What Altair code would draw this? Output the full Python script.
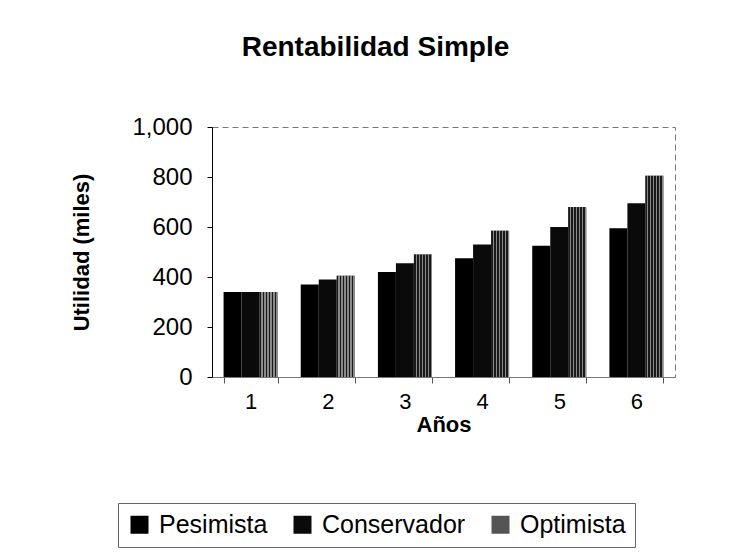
import altair as alt
import pandas as pd

years = ["1", "2", "3", "4", "5", "6"]
scenarios = ["Pesimista", "Conservador", "Optimista"]
pesimista = [340, 370, 420, 475, 525, 595]
conservador = [340, 390, 455, 530, 600, 695]
optimista = [340, 405, 490, 585, 680, 805]
y_ticks = [0, 200, 400, 600, 800, 1000]

rows = []
for s, vals in zip(scenarios, [pesimista, conservador, optimista]):
    for yr, v in zip(years, vals):
        rows.append({"Año": yr, "Escenario": s, "Utilidad": v})
df = pd.DataFrame(rows)

FONT = "Liberation Sans"

# hatch-like fill for the "Optimista" bars (style only)
n = 6
stops = []
for i in range(n):
    a = i / n
    b = (i + 0.55) / n
    c = (i + 1) / n
    stops += [
        alt.GradientStop(color="#1a1a1a", offset=a),
        alt.GradientStop(color="#1a1a1a", offset=b),
        alt.GradientStop(color="#8a8a8a", offset=b),
        alt.GradientStop(color="#8a8a8a", offset=c),
    ]
hatch_fill = alt.LinearGradient(gradient="linear", stops=stops, x1=0, y1=0, x2=1, y2=0)

x = alt.X(
    "Año:N",
    sort=years,
    scale=alt.Scale(paddingInner=0.3, paddingOuter=0.15),
    axis=alt.Axis(
        title="Años",
        labelAngle=0,
        labelFontSize=22,
        labelPadding=8,
        tickBand="extent",
        tickSize=6,
        tickColor="#555",
        domainColor="#777",
        titleFontSize=22,
        titleFontWeight="bold",
        titlePadding=2,
        labelColor="#000",
        titleColor="#000",
    ),
)
xoff = alt.XOffset(
    "Escenario:N",
    sort=scenarios,
    scale=alt.Scale(domain=scenarios, paddingInner=0, paddingOuter=0),
)
y = alt.Y(
    "Utilidad:Q",
    scale=alt.Scale(domain=[0, 1000], nice=False),
    axis=alt.Axis(
        title="Utilidad (miles)",
        values=y_ticks,
        format=",.0f",
        grid=False,
        labelFontSize=24,
        labelPadding=15,
        tickSize=5,
        tickColor="#000",
        domainColor="#000",
        titleFontSize=22,
        titleFontWeight="bold",
        titleX=-119,
        titleY=125,
        labelColor="#000",
        titleColor="#000",
    ),
)
color = alt.Color(
    "Escenario:N",
    sort=scenarios,
    scale=alt.Scale(domain=scenarios, range=["#000000", "#0a0a0a", "#555555"]),
    legend=alt.Legend(
        title=None,
        orient="none",
        direction="horizontal",
        legendX=-94,
        legendY=376,
        labelFontSize=25,
        labelColor="#000",
        symbolType="square",
        symbolSize=324,
        symbolStrokeWidth=0,
        labelOffset=7,
        columnPadding=22,
        padding=9,
        strokeColor="#666",
    ),
)

base = alt.Chart(df).encode(x=x, xOffset=xoff, y=y)
bars = base.mark_bar().encode(color=color)
hatch = base.transform_filter("datum.Escenario == 'Optimista'").mark_bar(color=hatch_fill)

chart = (
    alt.layer(bars, hatch)
    .properties(
        width=463,
        height=250,
        autosize=alt.AutoSizeParams(type="none"),
        padding={"left": 204, "top": 119, "right": 50, "bottom": 178},
        title=alt.TitleParams(
            "Rentabilidad Simple",
            fontSize=28,
            fontWeight="bold",
            font=FONT,
            anchor="middle",
            dx=-68,
            offset=53,
            color="#000",
        ),
    )
    .configure(font=FONT)
    .configure_view(stroke="#777", strokeDash=[6, 4])
)

chart.save("out.html", embed_options={"renderer": "svg", "actions": False})
